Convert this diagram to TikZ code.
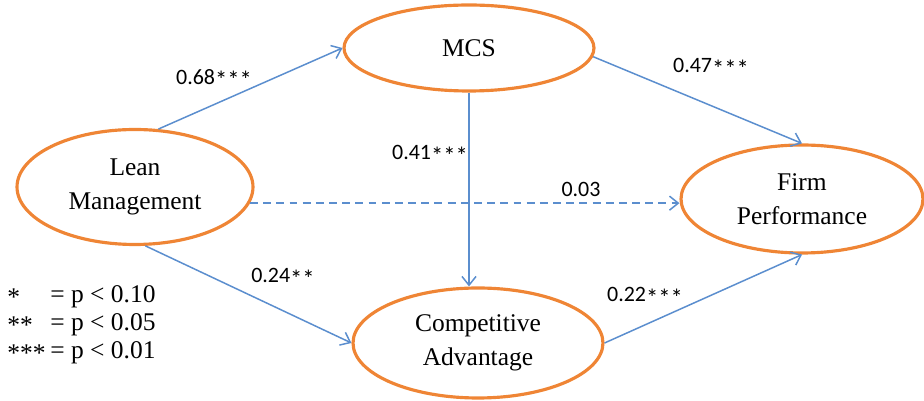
\documentclass[tikz,border=0pt]{standalone}
\usepackage{fontspec}
\setmainfont{Liberation Serif}
\newfontfamily\coeffont{Carlito}
\usetikzlibrary{shapes.geometric,arrows.meta}
\definecolor{ringorange}{HTML}{EF8535}
\definecolor{linkblue}{HTML}{5B8ECE}
\newcommand\sigstars[1]{\raisebox{-0.45ex}{\fontsize{14}{14}\selectfont#1}}

\begin{document}
\begin{tikzpicture}[x=0.02cm,y=-0.02cm]
  \tikzset{construct/.style={ellipse,draw=ringorange,line width=1.8pt,align=center,inner sep=0pt,
             font=\fontsize{14.5}{19.5}\selectfont},
           link/.style={draw=linkblue,line width=0.85pt,-{Straight Barb[length=5pt,width=8pt]}},
           coef/.style={font=\coeffont\fontsize{12.5}{14}\selectfont,inner sep=0pt},
           legend/.style={font=\fontsize{14.5}{17}\selectfont,inner sep=0pt,anchor=west}}
  \useasboundingbox (0,0) rectangle (924,401);
  \node[construct,minimum width=5cm,minimum height=1.72cm] (mcs) at (469,48) {MCS};
  \node[construct,minimum width=4.72cm,minimum height=2.3cm] (lean) at (135,187) {Lean\\Management};
  \node[construct,minimum width=4.84cm,minimum height=2.16cm] (firm) at (802,199) {Firm\\Performance};
  \node[construct,minimum width=5cm,minimum height=2.2cm] (ca) at (478,343) {Competitive\\Advantage};
  \draw[link] (lean.68) -- (mcs.west);
  \draw[link] (mcs.-4) -- (firm.north);
  \draw[link] (mcs.south) -- (mcs.south |- ca.north);
  \draw[link,dash pattern=on 4.5pt off 3pt] (lean.-8) -- (lean.-8 -| firm.west);
  \draw[link] (lean.-80) -- (ca.west);
  \draw[link] (ca.east) -- (firm.south);
  \node[coef] (c1) at (214,79) {0.68\sigstars{***}};
  \node[coef] (c2) at (711,68) {0.47\sigstars{***}};
  \node[coef] (c3) at (430,155) {0.41\sigstars{***}};
  \node[coef] (c4) at (581,189) {0.03};
  \node[coef] (c5) at (283,278) {0.24\sigstars{**}};
  \node[coef] (c6) at (645,297) {0.22\sigstars{***}};
  \node[legend] (s1) at (7,297) {*};
  \node[legend] (s2) at (7,325) {**};
  \node[legend] (s3) at (7,353) {***};
  \node[legend] (p1) at (50,297) {= p < 0.10};
  \node[legend] (p2) at (50,325) {= p < 0.05};
  \node[legend] (p3) at (50,353) {= p < 0.01};
\end{tikzpicture}
\end{document}
